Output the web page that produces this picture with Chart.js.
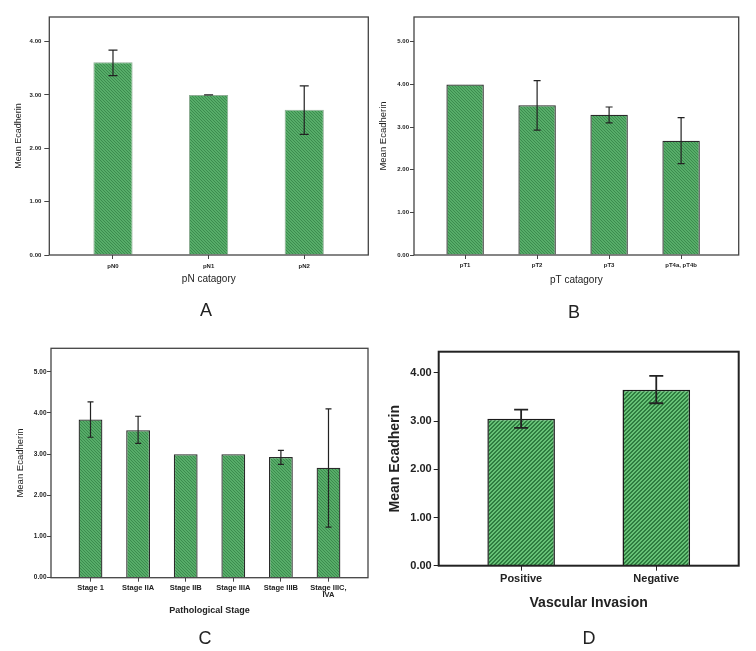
<!DOCTYPE html>
<html>
<head>
<meta charset="utf-8">
<title>Mean Ecadherin by category</title>
<script src="https://cdn.jsdelivr.net/npm/chart.js@4.4.0/dist/chart.umd.min.js"></script>
<style>
  body { margin: 0; background: #fff; }
  #page { position: relative; width: 756px; height: 651px; overflow: hidden; font-family: 'Liberation Sans', Arial, sans-serif; }
  canvas { position: absolute; }
  .tag { position: absolute; font-size: 18px; color: #222; transform: translate(-50%, -50%); line-height: 1; }
</style>
</head>
<body>
<div id="page">
  <canvas id="chart-a" width="378" height="320" style="left:0;top:0"></canvas>
  <canvas id="chart-b" width="378" height="320" style="left:378px;top:0"></canvas>
  <canvas id="chart-c" width="378" height="331" style="left:0;top:320px"></canvas>
  <canvas id="chart-d" width="378" height="331" style="left:378px;top:320px"></canvas>
  <div class="tag" style="left:206px;top:310px">A</div>
  <div class="tag" style="left:574px;top:312px">B</div>
  <div class="tag" style="left:205px;top:638px">C</div>
  <div class="tag" style="left:589px;top:638px">D</div>
</div>
<script>
// Panel A - pN category
const pnLabels = ['pN0', 'pN1', 'pN2'];
const pnMeans = [3.61, 3.00, 2.72];
const pnLow = [3.36, 3.00, 2.26];
const pnHigh = [3.84, 3.00, 3.17];

// Panel B - pT category
const ptLabels = ['pT1', 'pT2', 'pT3', 'pT4a, pT4b'];
const ptMeans = [4.00, 3.51, 3.29, 2.68];
const ptLow = [null, 2.93, 3.10, 2.14];
const ptHigh = [null, 4.09, 3.47, 3.22];

// Panel C - pathological stage
const stageLabels = ['Stage 1', 'Stage IIA', 'Stage IIB', 'Stage IIIA', 'Stage IIIB', ['Stage IIIC,', 'IVA']];
const stageMeans = [3.84, 3.58, 3.00, 3.00, 2.93, 2.67];
const stageLow = [3.41, 3.26, null, null, 2.75, 1.23];
const stageHigh = [4.27, 3.92, null, null, 3.09, 4.10];

// Panel D - vascular invasion
const vascLabels = ['Positive', 'Negative'];
const vascMeans = [3.05, 3.65];
const vascLow = [2.86, 3.37];
const vascHigh = [3.24, 3.94];

const FONT = "'Liberation Sans', Arial, sans-serif";

// diagonal hatch fill like the SPSS bars
function hatch(size, dir, light, dark, darkPx) {
    const c = document.createElement('canvas');
    c.width = size; c.height = size;
    const g = c.getContext('2d');
    g.fillStyle = light;
    g.fillRect(0, 0, size, size);
    g.fillStyle = dark;
    for (let x = 0; x < size; x++) {
        for (let y = 0; y < size; y++) {
            const k = dir === 'down' ? ((x - y) % size + size) % size : (x + y) % size;
            if (k < darkPx) g.fillRect(x, y, 1, 1);
        }
    }
    return g.createPattern(c, 'repeat');
}

function makePanel(id, labels, means, lows, highs, s) {
    const ctx = document.getElementById(id).getContext('2d');

    const boxPlugin = {
        id: 'box',
        afterDraw(chart) {
            const a = chart.chartArea;
            const g = chart.ctx;
            g.save();
            g.strokeStyle = s.boxColor;
            g.lineWidth = s.boxWidth;
            g.strokeRect(a.left, a.top, a.right - a.left, a.bottom - a.top);
            g.restore();
        }
    };

    const errPlugin = {
        id: 'errbars',
        afterDatasetsDraw(chart) {
            const xs = chart.scales.x, ys = chart.scales.y;
            const g = chart.ctx;
            g.save();
            g.strokeStyle = s.errColor;
            g.lineWidth = s.errWidth;
            lows.forEach((lo, i) => {
                const hi = highs[i];
                if (lo === null || hi === null) return;
                const x = xs.getPixelForValue(i + 1);
                const y1 = ys.getPixelForValue(hi), y2 = ys.getPixelForValue(lo);
                const h = s.capWidth / 2;
                g.beginPath();
                g.moveTo(x, y1); g.lineTo(x, y2);
                g.moveTo(x - h, y1); g.lineTo(x + h, y1);
                g.moveTo(x - h, y2); g.lineTo(x + h, y2);
                g.stroke();
            });
            g.restore();
        }
    };

    return new Chart(ctx, {
        type: 'bar',
        data: {
            datasets: [{
                data: means.map((m, i) => ({ x: i + 1, y: m })),
                backgroundColor: s.fill,
                borderColor: s.barBorder,
                borderWidth: s.barBorderWidth,
                categoryPercentage: 1,
                barPercentage: s.barPct
            }]
        },
        options: {
            responsive: false,
            animation: false,
            layout: { padding: { left: 0, top: s.padTop, right: s.padRight, bottom: 0 } },
            plugins: { legend: { display: false }, tooltip: { enabled: false } },
            scales: {
                x: {
                    type: 'linear',
                    min: s.xMin,
                    max: s.xMax,
                    offset: false,
                    afterBuildTicks: axis => { axis.ticks = labels.map((_, i) => ({ value: i + 1 })); },
                    afterFit: axis => { axis.height = s.xHeight; },
                    border: { display: false },
                    grid: { offset: false, drawOnChartArea: false, drawTicks: true, tickLength: s.xTick, color: s.boxColor, lineWidth: 1 },
                    ticks: {
                        autoSkip: false, maxRotation: 0, minRotation: 0,
                        padding: s.xTickPad,
                        color: '#222',
                        font: { family: FONT, size: s.xTickSize, weight: 'bold', lineHeight: 1 },
                        callback: v => labels[Math.round(v) - 1] ?? ''
                    },
                    title: {
                        display: true, text: s.xTitle, color: '#222',
                        font: { family: FONT, size: s.xTitleSize, weight: s.xTitleWeight },
                        padding: { top: 0, bottom: s.xTitlePad }
                    }
                },
                y: {
                    min: 0,
                    max: s.yMax,
                    afterFit: axis => { axis.width = s.yWidth; },
                    border: { display: false },
                    grid: { drawOnChartArea: false, drawTicks: true, tickLength: s.yTick, color: s.boxColor, lineWidth: 1 },
                    ticks: {
                        stepSize: 1, includeBounds: false,
                        padding: s.yTickPad,
                        color: '#222',
                        font: { family: FONT, size: s.yTickSize, weight: 'bold' },
                        callback: v => v.toFixed(2)
                    },
                    title: {
                        display: true, text: 'Mean Ecadherin', color: '#222',
                        font: { family: FONT, size: s.yTitleSize, weight: s.yTitleWeight },
                        padding: { top: s.yTitlePad, bottom: 0 }
                    }
                }
            }
        },
        plugins: [boxPlugin, errPlugin]
    });
}

const ctxTmp = document.getElementById('chart-a').getContext('2d');
const fineFill = hatch(3, 'down', '#57ad69', '#3c8b4e', 1);
const boldFill = hatch(4, 'up', '#66c276', '#2f7d40', 2);

makePanel('chart-a', pnLabels, pnMeans, pnLow, pnHigh, {
    fill: fineFill, barBorder: '#8fae95', barBorderWidth: 1, barPct: 0.41,
    xMin: 0.334, xMax: 3.67, yMax: 4.46,
    padTop: 17, padRight: 9.7, yWidth: 49.3, xHeight: 65,
    boxColor: '#444', boxWidth: 1.3,
    errColor: '#222', errWidth: 1.2, capWidth: 9,
    xTick: 4, xTickPad: 4.4, xTickSize: 6,
    xTitle: 'pN catagory', xTitleSize: 10, xTitleWeight: 'normal', xTitlePad: 34.7,
    yTick: 5, yTickPad: 3, yTickSize: 6,
    yTitleSize: 9, yTitleWeight: 'normal', yTitlePad: 13.6
});

makePanel('chart-b', ptLabels, ptMeans, ptLow, ptHigh, {
    fill: fineFill, barBorder: '#2a2a2a', barBorderWidth: 1.3, barPct: 0.52,
    xMin: 0.29, xMax: 4.8, yMax: 5.58,
    padTop: 17, padRight: 17.3, yWidth: 36, xHeight: 65,
    boxColor: '#444', boxWidth: 1.3,
    errColor: '#222', errWidth: 1.2, capWidth: 7,
    xTick: 4, xTickPad: 3.4, xTickSize: 6,
    xTitle: 'pT catagory', xTitleSize: 10, xTitleWeight: 'normal', xTitlePad: 34,
    yTick: 4, yTickPad: 1, yTickSize: 6,
    yTitleSize: 9.5, yTitleWeight: 'normal', yTitlePad: 0
});

makePanel('chart-c', stageLabels, stageMeans, stageLow, stageHigh, {
    fill: fineFill, barBorder: '#2a2a2a', barBorderWidth: 1.3, barPct: 0.5,
    xMin: 0.17, xMax: 6.83, yMax: 5.57,
    padTop: 28.3, padRight: 10, yWidth: 51, xHeight: 73.3,
    boxColor: '#444', boxWidth: 1.3,
    errColor: '#222', errWidth: 1.2, capWidth: 6,
    xTick: 4, xTickPad: 2.2, xTickSize: 7.5,
    xTitle: 'Pathological Stage', xTitleSize: 9, xTitleWeight: 'bold', xTitlePad: 35.3,
    yTick: 4, yTickPad: 0.5, yTickSize: 6.5,
    yTitleSize: 9.5, yTitleWeight: 'normal', yTitlePad: 14.8
});

makePanel('chart-d', vascLabels, vascMeans, vascLow, vascHigh, {
    fill: boldFill, barBorder: '#1a1a1a', barBorderWidth: 1.5, barPct: 0.5,
    xMin: 0.39, xMax: 2.61, yMax: 4.44,
    padTop: 31.7, padRight: 17.3, yWidth: 60.7, xHeight: 85.3,
    boxColor: '#222', boxWidth: 2,
    errColor: '#222', errWidth: 1.8, capWidth: 14,
    xTick: 5, xTickPad: 2.7, xTickSize: 11,
    xTitle: 'Vascular Invasion', xTitleSize: 14, xTitleWeight: 'bold', xTitlePad: 39.3,
    yTick: 5, yTickPad: 2, yTickSize: 11,
    yTitleSize: 14, yTitleWeight: 'bold', yTitlePad: 8.3
});
</script>
</body>
</html>
